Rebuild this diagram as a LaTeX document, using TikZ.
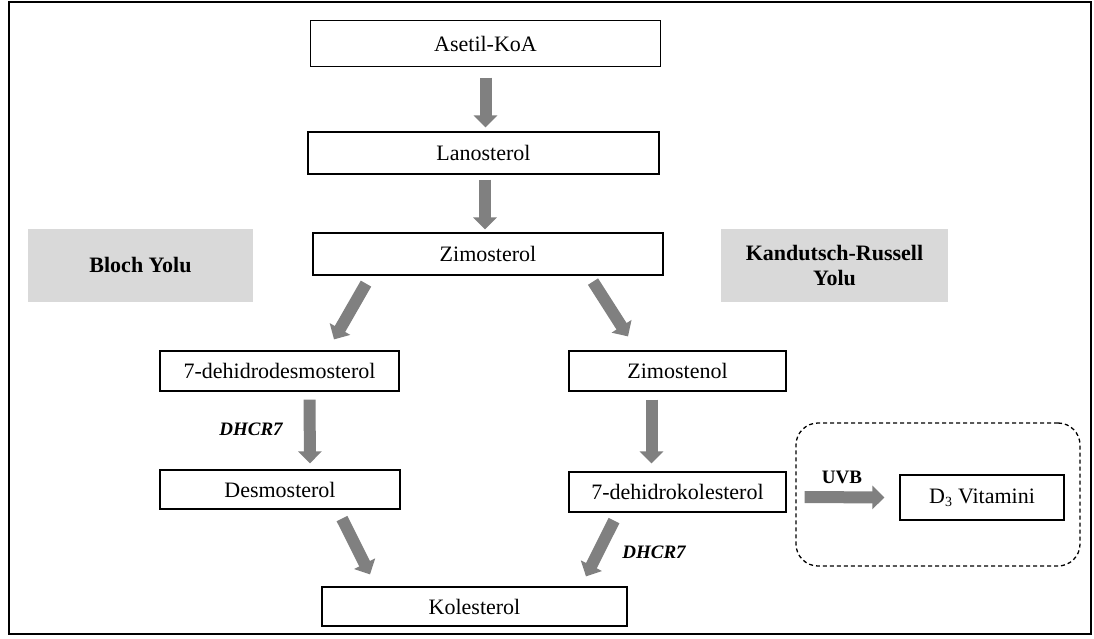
\documentclass[tikz,border=0pt]{standalone}
\usepackage{fontspec}
\setmainfont{Liberation Serif}
\usetikzlibrary{arrows.meta,calc}
\definecolor{arrgray}{RGB}{128,128,128}
\definecolor{boxgray}{RGB}{217,217,217}
\tikzset{
  box/.style={draw=black, line width=1.2pt, fill=white, inner sep=0pt, font=\fontsize{22}{24}\selectfont},
  graybox/.style={fill=boxgray, inner sep=0pt, align=center, font=\fontsize{22}{25}\selectfont\bfseries},
  bigarrow/.style={draw=arrgray, line width=12pt, -{Triangle[width=23pt,length=12pt]}, arrgray},
  lbl/.style={font=\fontsize{19}{21}\selectfont\bfseries, inner sep=0pt},
}
\begin{document}
\begin{tikzpicture}[x=1pt,y=-1pt]
\useasboundingbox (0,0) rectangle (1094,639);
\draw[line width=2pt] (9,2) rectangle (1091,634);
% nodes
\node[box, minimum width=350pt, minimum height=46pt] (asetil) at (485.5,43.5) {Asetil-KoA};
\node[box, minimum width=351pt, minimum height=42pt] (lano) at (483.5,153) {Lanosterol};
\node[box, minimum width=350pt, minimum height=42pt] (zimo) at (488,254) {Zimosterol};
\node[graybox, minimum width=225pt, minimum height=73pt] (bloch) at (140.5,265.5) {Bloch Yolu};
\node[graybox, minimum width=227pt, minimum height=73pt] (kr) at (834.5,265.5) {Kandutsch-Russell\\Yolu};
\node[box, minimum width=239pt, minimum height=40pt] (dhd) at (279.5,371) {7-dehidrodesmosterol};
\node[box, minimum width=217pt, minimum height=40pt] (zimost) at (677.5,371) {Zimostenol};
\node[box, minimum width=240pt, minimum height=39pt] (desmo) at (280,489.5) {Desmosterol};
\node[box, minimum width=217pt, minimum height=40pt] (dhk) at (677.5,492) {7-dehidrokolesterol};
\node[draw=black, line width=1.3pt, dash pattern=on 4pt off 3pt, rounded corners=22pt, minimum width=284pt, minimum height=143pt, inner sep=0pt] (uvbox) at (938,494.5) {};
\node[box, minimum width=164pt, minimum height=45pt] (d3) at (982,497.5) {D\textsubscript{\fontsize{14}{14}\selectfont 3} Vitamini};
\node[box, minimum width=305pt, minimum height=39pt] (kol) at (474.5,606.5) {Kolesterol};
% labels
\node[lbl, font=\fontsize{19}{21}\selectfont\bfseries\itshape] (l1) at (251,429) {DHCR7};
\node[lbl, font=\fontsize{19}{21}\selectfont\bfseries\itshape] (l2) at (654,552) {DHCR7};
\node[lbl] (l3) at (842,477) {UVB};
% arrows
\draw[bigarrow] ($(asetil.south)+(0,10.5)$) -- ($(asetil.south |- lano.north)+(0,-4)$);
\draw[bigarrow] ($(lano.south)+(1.5,5)$) -- ($(zimo.north)+(-3,-3)$);
\draw[bigarrow] ($(zimo.south)+(-122,8)$) -- ($(dhd.north)+(54.5,-11)$);
\draw[bigarrow] ($(zimo.south)+(105,6)$) -- ($(zimost.north)+(-49.5,-14)$);
\draw[bigarrow] ($(dhd.south)+(30,8)$) -- ($(desmo.north)+(30,-6)$);
\draw[bigarrow] ($(zimost.south)+(-26,8)$) -- ($(dhk.north)+(-26,-8)$);
\draw[bigarrow] ($(desmo.south)+(62,9)$) -- ($(kol.north)+(-104.5,-12)$);
\draw[bigarrow] ($(dhk.south)+(-63.5,8)$) -- ($(kol.north)+(111.5,-10)$);
\draw[bigarrow] ($(dhk.east)+(18,5)$) -- ($(d3.west)+(-15,0)$);
\end{tikzpicture}
\end{document}
